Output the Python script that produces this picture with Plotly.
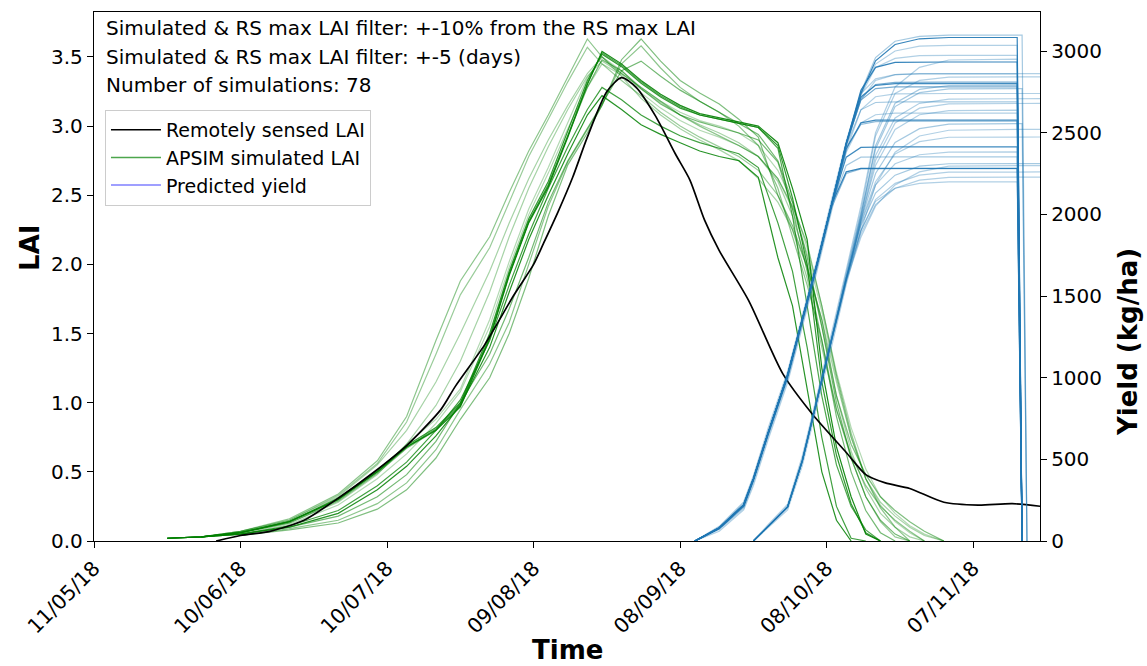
import plotly.graph_objects as go

# ---------------- data ----------------
RS_DATES = ['2018-06-05', '2018-06-10', '2018-06-16', '2018-06-23', '2018-06-30', '2018-07-07',
            '2018-07-14', '2018-07-21', '2018-07-24', '2018-07-30', '2018-08-05', '2018-08-09',
            '2018-08-11', '2018-08-14', '2018-08-17', '2018-08-20', '2018-08-24', '2018-08-27',
            '2018-08-30', '2018-09-03', '2018-09-07', '2018-09-10', '2018-09-13', '2018-09-16',
            '2018-09-22', '2018-09-29', '2018-10-05', '2018-10-12', '2018-10-16', '2018-10-20',
            '2018-10-25', '2018-11-01', '2018-11-08', '2018-11-15', '2018-11-21']
RS_LAI = [0.0, 0.04, 0.07, 0.15, 0.31, 0.49,
          0.69, 0.95, 1.12, 1.42, 1.78, 2.00,
          2.15, 2.38, 2.63, 2.92, 3.25, 3.35,
          3.28, 3.07, 2.80, 2.61, 2.32, 2.10,
          1.74, 1.21, 0.92, 0.64, 0.48, 0.42,
          0.38, 0.28, 0.26, 0.27, 0.25]

SIM_DATES = ['2018-05-26', '2018-06-02', '2018-06-10', '2018-06-20', '2018-06-30', '2018-07-08',
             '2018-07-14', '2018-07-20', '2018-07-25', '2018-07-31', '2018-08-04', '2018-08-08',
             '2018-08-12', '2018-08-16', '2018-08-20', '2018-08-23', '2018-08-27', '2018-08-31',
             '2018-09-04', '2018-09-08', '2018-09-12', '2018-09-16', '2018-09-20', '2018-09-24',
             '2018-09-28', '2018-10-01', '2018-10-04', '2018-10-07', '2018-10-10', '2018-10-13',
             '2018-10-16', '2018-10-19', '2018-10-22', '2018-10-25', '2018-10-28', '2018-11-01',
             '2018-11-04']
N = None
SIM_A1 = [0.02, 0.03, 0.06, 0.14, 0.30, 0.50, 0.68, 0.80, 0.97, 1.46, 1.92, 2.30, 2.56, 2.92, 3.30, 3.54,
          3.45, 3.33, 3.23, 3.15, 3.09, 3.06, 3.03, 3.00, 2.88, 2.55, 2.18, 1.25, 0.68, 0.32, 0.05, 0.0,
          N, N, N, N, N]
SIM_A2 = [0.02, 0.03, 0.06, 0.14, 0.31, 0.51, 0.69, 0.82, 1.00, 1.50, 1.95, 2.33, 2.60, 2.96, 3.33, 3.52,
          3.43, 3.31, 3.21, 3.13, 3.08, 3.05, 3.02, 2.99, 2.86, 2.48, 2.00, 1.15, 0.62, 0.27, 0.06, 0.0,
          N, N, N, N, N]
SIM_A3 = [0.02, 0.03, 0.06, 0.13, 0.29, 0.49, 0.67, 0.80, 0.98, 1.48, 1.93, 2.31, 2.58, 2.93, 3.28, 3.48,
          3.40, 3.27, 3.16, 3.08, 3.03, 2.99, 2.95, 2.90, 2.74, 2.40, 1.95, 1.45, 0.90, 0.50, 0.22, 0.06,
          0.0, N, N, N, N]
SIM_A4 = [0.02, 0.03, 0.06, 0.14, 0.30, 0.50, 0.68, 0.81, 0.99, 1.47, 1.93, 2.31, 2.57, 2.93, 3.31, 3.53,
          3.44, 3.32, 3.22, 3.14, 3.08, 3.05, 3.02, 2.99, 2.84, 2.35, 1.70, 1.05, 0.55, 0.25, 0.08, 0.0,
          N, N, N, N, N]
SIM_B1 = [0.02, 0.03, 0.07, 0.16, 0.34, 0.58, 0.90, 1.45, 1.88, 2.20, 2.52, 2.82, 3.08, 3.35, 3.63, 3.50,
          3.38, 3.28, 3.18, 3.08, 3.00, 2.93, 2.86, 2.78, 2.62, 2.42, 2.15, 1.70, 1.20, 0.78, 0.45, 0.24,
          0.10, 0.0, N, N, N]
SIM_B2 = [0.02, 0.03, 0.07, 0.15, 0.33, 0.56, 0.86, 1.35, 1.78, 2.12, 2.45, 2.78, 3.05, 3.32, 3.57, 3.45,
          3.33, 3.22, 3.10, 3.00, 2.92, 2.85, 2.78, 2.68, 2.50, 2.25, 1.90, 1.40, 0.95, 0.60, 0.32, 0.14,
          0.03, 0.0, N, N, N]
SIM_C1 = [N, N, 0.04, 0.08, 0.13, 0.23, 0.37, 0.60, 0.88, 1.18, 1.50, 1.90, 2.35, 2.72, 2.95, 3.15,
          3.48, 3.63, 3.47, 3.33, 3.24, 3.16, 3.05, 2.92, 2.50, 2.28, 1.98, 1.60, 1.05, 0.70, 0.48, 0.32,
          0.22, 0.14, 0.07, 0.0, N]
SIM_C2 = [N, N, 0.04, 0.09, 0.15, 0.27, 0.42, 0.66, 0.95, 1.28, 1.58, 2.00, 2.42, 2.74, 2.97, 3.15,
          3.45, 3.58, 3.42, 3.28, 3.18, 3.10, 3.00, 2.86, 2.55, 2.20, 1.85, 1.45, 0.95, 0.62, 0.40, 0.25,
          0.15, 0.07, 0.0, N, N]
SIM_C3 = [N, 0.03, 0.05, 0.10, 0.18, 0.32, 0.48, 0.72, 1.00, 1.35, 1.68, 2.05, 2.45, 2.75, 2.98, 3.16,
          3.40, 3.47, 3.36, 3.26, 3.18, 3.10, 3.02, 2.94, 2.75, 2.45, 2.05, 1.55, 1.00, 0.60, 0.32, 0.15,
          0.05, 0.0, N, N, N]
SIM_D1 = [N, 0.03, 0.05, 0.10, 0.20, 0.37, 0.54, 0.76, 0.98, 1.40, 1.80, 2.18, 2.50, 2.80, 3.08, 3.22,
          3.12, 3.01, 2.94, 2.88, 2.82, 2.78, 2.75, 2.63, 2.05, 1.70, 1.10, 0.50, 0.15, 0.0,
          N, N, N, N, N, N, N]
SIM_D2 = [N, 0.03, 0.05, 0.11, 0.22, 0.40, 0.57, 0.80, 1.02, 1.45, 1.85, 2.22, 2.55, 2.85, 3.12, 3.28,
          3.19, 3.08, 3.00, 2.93, 2.88, 2.84, 2.80, 2.70, 2.30, 1.95, 1.40, 0.75, 0.25, 0.02, 0.0,
          N, N, N, N, N, N]
SIM_E1 = [0.02, 0.03, 0.07, 0.15, 0.32, 0.55, 0.80, 1.15, 1.50, 1.95, 2.30, 2.62, 2.90, 3.15, 3.38, 3.50,
          3.36, 3.20, 3.08, 2.98, 2.90, 2.83, 2.75, 2.62, 2.45, 2.25, 1.98, 1.60, 1.15, 0.75, 0.45, 0.28,
          0.18, 0.10, 0.04, 0.0, N]
SIM_E2 = [0.02, 0.03, 0.06, 0.13, 0.28, 0.48, 0.70, 0.98, 1.30, 1.80, 2.20, 2.55, 2.85, 3.12, 3.36, 3.47,
          3.38, 3.27, 3.17, 3.08, 3.01, 2.95, 2.88, 2.78, 2.60, 2.35, 2.00, 1.55, 1.05, 0.65, 0.38, 0.20,
          0.10, 0.03, 0.0, N, N]
SIM_F1 = [0.02, 0.03, 0.06, 0.14, 0.30, 0.50, 0.70, 0.88, 1.10, 1.60, 2.02, 2.40, 2.70, 3.02, 3.35, 3.50,
          3.40, 3.28, 3.18, 3.10, 3.04, 3.00, 2.95, 2.86, 2.68, 2.45, 2.12, 1.70, 1.22, 0.82, 0.52, 0.32,
          0.20, 0.11, 0.05, 0.0, N]
SIM_F2 = [N, 0.03, 0.05, 0.12, 0.26, 0.45, 0.63, 0.85, 1.08, 1.55, 1.98, 2.36, 2.66, 2.98, 3.28, 3.45,
          3.37, 3.24, 3.13, 3.04, 2.97, 2.92, 2.86, 2.78, 2.62, 2.40, 2.08, 1.66, 1.18, 0.75, 0.45, 0.26,
          0.14, 0.06, 0.0, N, N]

YIELD_DATES = ['2018-09-11', '2018-09-16', '2018-09-21', '2018-09-23', '2018-09-26', '2018-09-30',
               '2018-10-03', '2018-10-06', '2018-10-09', '2018-10-12', '2018-10-15', '2018-10-18',
               '2018-10-22', '2018-10-27', '2018-11-02', '2018-11-16', '2018-11-17', '2018-11-18',
               '2018-11-26']
YLD_E1 = [0, 80, 220, 380, 660, 1015, 1355, 1695, 2060, 2435, 2740, 2940, 3040, 3075, 3083, 3083, 0, N, N]
YLD_E2 = [0, 80, 220, 380, 660, 1015, 1355, 1695, 2060, 2435, 2760, 2900, 2930, 2933, 2933, 2933, 0, N, N]
YLD_E3 = [0, 80, 220, 380, 660, 1015, 1355, 1695, 2060, 2435, 2720, 2790, 2800, 2800, 2800, 2800, 0, N, N]
YLD_E4 = [0, 80, 220, 380, 660, 1015, 1355, 1695, 2060, 2430, 2700, 2770, 2780, 2780, 2780, 2780, 0, N, N]
YLD_E5 = [0, 80, 220, 380, 660, 1015, 1355, 1695, 2060, 2400, 2560, 2577, 2577, 2577, 2577, 2577, 0, N, N]
YLD_E6 = [0, 80, 220, 380, 660, 1015, 1355, 1695, 2060, 2350, 2410, 2413, 2413, 2413, 2413, 2413, 0, N, N]
YLD_E7 = [0, 80, 220, 380, 660, 1015, 1355, 1695, 2060, 2260, 2281, 2281, 2281, 2281, 2281, 2281, 0, N, N]
YLD_E8 = [0, 80, 220, 380, 660, 1015, 1355, 1695, 2060, 2435, 2750, 2960, 3060, 3090, 3097, 3097, 3097, 0, N]
YLD_E9 = [0, 80, 220, 380, 660, 1015, 1355, 1695, 2060, 2435, 2740, 2920, 3000, 3030, 3035, 3035, 0, N, N]
YLD_E10 = [0, 80, 220, 380, 660, 1015, 1355, 1695, 2060, 2435, 2730, 2900, 2955, 2972, 2974, 2974, 0, N, N]
YLD_E11 = [0, 80, 220, 380, 660, 1015, 1355, 1695, 2060, 2435, 2700, 2820, 2855, 2862, 2862, 2862, 2862, 2862, 2862]
YLD_E12 = [0, 80, 220, 380, 660, 1015, 1355, 1695, 2060, 2420, 2640, 2685, 2689, 2689, 2689, 2689, 0, N, N]
YLD_E13 = [0, 80, 220, 380, 660, 1015, 1355, 1695, 2060, 2300, 2350, 2352, 2352, 2352, 2352, 2352, 0, N, N]
YLD_E14 = [0, 60, 190, 340, 620, 970, 1310, 1650, 2020, 2390, 2640, 2720, 2738, 2740, 2740, 2740, 2740, 2740, 2740]
YLD_E15 = [0, 70, 200, 360, 640, 990, 1330, 1670, 2040, 2380, 2560, 2610, 2620, 2620, 2620, 2620, 0, N, N]
YLD_E16 = [0, 90, 240, 400, 690, 1040, 1380, 1720, 2090, 2450, 2740, 2830, 2855, 2860, 2860, 2860, 0, N, N]
YLD_E17 = [0, 75, 210, 370, 650, 1000, 1340, 1680, 2050, 2420, 2710, 2795, 2808, 2810, 2810, 2810, 0, N, N]
YLD_E18 = [0, 85, 230, 390, 670, 1025, 1365, 1705, 2070, 2410, 2550, 2568, 2570, 2570, 2570, 2570, 0, N, N]
YLD_E19 = [0, 75, 210, 370, 650, 1000, 1340, 1680, 2040, 2250, 2278, 2280, 2280, 2280, 2280, 2280, 0, N, N]
YLD_L1 = [N, N, N, 0, 90, 208, 490, 857, 1230, 1610, 1900, 2080, 2160, 2190, 2199, 2199, 0, N, N]
YLD_L2 = [N, N, N, 0, 90, 208, 490, 857, 1230, 1600, 1900, 2090, 2190, 2240, 2258, 2260, 2260, 2260, 2260]
YLD_L3 = [N, N, N, 0, 90, 208, 490, 857, 1230, 1610, 1930, 2130, 2240, 2295, 2310, 2311, 2311, 2311, 2311]
YLD_L4 = [N, N, N, 0, 90, 208, 490, 857, 1230, 1610, 1950, 2200, 2370, 2445, 2472, 2474, 2474, 2474, 2474]
YLD_L5 = [N, N, N, 0, 90, 208, 490, 857, 1230, 1610, 1960, 2250, 2440, 2525, 2553, 2556, 2556, 0, N]
YLD_L6 = [N, N, N, 0, 90, 208, 490, 857, 1230, 1610, 1970, 2300, 2520, 2610, 2635, 2638, 0, N, N]
YLD_L7 = [N, N, N, 0, 90, 208, 490, 857, 1230, 1610, 1980, 2360, 2590, 2680, 2706, 2709, 2709, 2709, 2709]
YLD_L8 = [N, N, N, 0, 90, 208, 490, 857, 1230, 1610, 1990, 2420, 2680, 2765, 2789, 2791, 0, N, N]
YLD_L9 = [N, N, N, 0, 90, 208, 490, 857, 1240, 1640, 2020, 2480, 2740, 2820, 2840, 2842, 2842, 2842, 2842]
YLD_L10 = [N, N, N, 0, 90, 208, 490, 857, 1230, 1610, 1940, 2180, 2310, 2365, 2381, 2383, 0, N, N]
YLD_L11 = [N, N, N, 0, 90, 208, 490, 857, 1230, 1600, 1880, 2060, 2160, 2210, 2227, 2229, 2229, 2229, 2229]
YLD_L12 = [N, N, N, 0, 80, 190, 460, 820, 1190, 1570, 1900, 2180, 2380, 2480, 2515, 2520, 2520, 2520, 2520]
YLD_L13 = [N, N, N, 0, 100, 225, 520, 890, 1270, 1660, 2050, 2500, 2780, 2900, 2945, 2950, 0, N, N]
YLD_L14 = [N, N, N, 0, 90, 208, 490, 857, 1230, 1610, 1970, 2330, 2560, 2650, 2677, 2680, 2680, 2680, 2680]
YLD_L15 = [N, N, N, 0, 90, 208, 490, 857, 1230, 1590, 1860, 2050, 2180, 2260, 2295, 2300, 2300, 2300, 2300]
YLD_L16 = [N, N, N, 0, 95, 215, 500, 870, 1250, 1630, 2000, 2400, 2660, 2745, 2768, 2770, 2770, 0, N]

TICK_DATES = ['2018-05-11', '2018-06-10', '2018-07-10', '2018-08-09', '2018-09-08', '2018-10-08', '2018-11-07']
TICK_LABELS = ['11/05/18', '10/06/18', '10/07/18', '09/08/18', '08/09/18', '08/10/18', '07/11/18']
LAI_TICKS = [0.0, 0.5, 1.0, 1.5, 2.0, 2.5, 3.0, 3.5]
YIELD_TICKS = [0, 500, 1000, 1500, 2000, 2500, 3000]
INFO_LINES = ['Simulated & RS max LAI filter: +-10% from the RS max LAI',
              'Simulated & RS max LAI filter: +-5 (days)',
              'Number of simulations: 78']
LEGEND_NAMES = ['Remotely sensed LAI', 'APSIM simulated LAI', 'Predicted yield']

# ---------------- styles ----------------
FONT = 'DejaVu Sans'
sim_series = [(SIM_F1, 0.3), (SIM_F2, 0.3), (SIM_E1, 0.35), (SIM_E2, 0.35), (SIM_B1, 0.45),
              (SIM_B2, 0.4), (SIM_C1, 0.5), (SIM_C2, 0.45), (SIM_C3, 0.55), (SIM_A3, 0.55),
              (SIM_A4, 0.7), (SIM_D1, 0.85), (SIM_D2, 0.75), (SIM_A2, 0.8), (SIM_A1, 0.9)]
yield_series = [(YLD_L1, 0.35), (YLD_L2, 0.35), (YLD_L3, 0.4), (YLD_L4, 0.35), (YLD_L5, 0.4),
                (YLD_L6, 0.35), (YLD_L7, 0.35), (YLD_L8, 0.4), (YLD_L9, 0.35), (YLD_L10, 0.35),
                (YLD_L11, 0.35), (YLD_L12, 0.35), (YLD_L13, 0.35), (YLD_L14, 0.35), (YLD_L15, 0.35),
                (YLD_L16, 0.4), (YLD_E8, 0.4), (YLD_E9, 0.35), (YLD_E10, 0.35), (YLD_E11, 0.35),
                (YLD_E12, 0.4), (YLD_E13, 0.4), (YLD_E14, 0.35), (YLD_E15, 0.35), (YLD_E16, 0.35),
                (YLD_E17, 0.6), (YLD_E18, 0.5), (YLD_E19, 0.5), (YLD_E1, 0.9), (YLD_E2, 0.9),
                (YLD_E3, 0.85), (YLD_E4, 0.6), (YLD_E5, 0.85), (YLD_E6, 0.85), (YLD_E7, 0.9)]

fig = go.Figure()
for vals, a in sim_series:
    fig.add_trace(go.Scatter(x=SIM_DATES, y=vals, mode='lines', showlegend=False, hoverinfo='skip',
                             line=dict(color=f'rgba(0,128,0,{a})', width=1.2)))
fig.add_trace(go.Scatter(x=RS_DATES, y=RS_LAI, mode='lines', showlegend=False,
                         line=dict(color='black', width=1.7, shape='spline', smoothing=0.7)))
for vals, a in yield_series:
    fig.add_trace(go.Scatter(x=YIELD_DATES, y=vals, yaxis='y2', mode='lines', showlegend=False,
                             hoverinfo='skip', line=dict(color=f'rgba(31,119,180,{a})', width=1.2)))

legend_colors = ['black', 'rgba(0,128,0,0.7)', 'rgba(0,0,255,0.5)']
for name, col in zip(LEGEND_NAMES, legend_colors):
    fig.add_trace(go.Scatter(x=[None], y=[None], mode='lines', name=name,
                             line=dict(color=col, width=1.5)))

axis_common = dict(showline=True, linecolor='black', linewidth=1.3, ticks='outside', ticklen=6,
                   tickwidth=1.2, tickcolor='black', showgrid=False, zeroline=False)

fig.update_layout(
    width=1147, height=666,
    margin=dict(l=94, r=107, t=12, b=125),
    plot_bgcolor='white', paper_bgcolor='white',
    font=dict(family=FONT, size=19, color='black'),
    xaxis=dict(type='date', range=['2018-05-11', '2018-11-20 16:00'], tickvals=TICK_DATES,
               ticktext=TICK_LABELS, tickangle=-45, mirror=True,
               tickfont=dict(family=FONT, size=20.5, color='black'), **axis_common),
    yaxis=dict(range=[0, 3.825], tickvals=LAI_TICKS, ticktext=[f'{v:.1f}' for v in LAI_TICKS],
               tickfont=dict(family=FONT, size=20, color='black'), **axis_common),
    yaxis2=dict(range=[0, 3239], tickvals=YIELD_TICKS, ticktext=[str(v) for v in YIELD_TICKS],
                overlaying='y', side='right',
                tickfont=dict(family=FONT, size=20, color='black'), **axis_common),
    legend=dict(x=0.0116, y=0.815, xanchor='left', yanchor='top', bgcolor='white',
                bordercolor='#cccccc', borderwidth=1, font=dict(family=FONT, size=19),
                itemwidth=50),
    showlegend=True,
)

ann = []
for i, txt in enumerate(INFO_LINES):
    ann.append(dict(text=txt, xref='paper', yref='paper', x=0.0106, y=[0.970, 0.915, 0.862][i],
                    xanchor='left', yanchor='middle', showarrow=False,
                    font=dict(family=FONT, size=20, color='black')))
ann.append(dict(text='<b>LAI</b>', xref='paper', yref='paper', x=-0.0677, y=0.554, textangle=-90,
                xanchor='center', yanchor='middle', showarrow=False, font=dict(family=FONT, size=26)))
ann.append(dict(text='<b>Yield (kg/ha)</b>', xref='paper', yref='paper', x=1.093, y=0.376,
                textangle=-90, xanchor='center', yanchor='middle', showarrow=False,
                font=dict(family=FONT, size=26)))
ann.append(dict(text='<b>Time</b>', xref='paper', yref='paper', x=0.5, y=-0.206,
                xanchor='center', yanchor='middle', showarrow=False, font=dict(family=FONT, size=26)))
fig.update_layout(annotations=ann)

fig.write_html("out.html")
